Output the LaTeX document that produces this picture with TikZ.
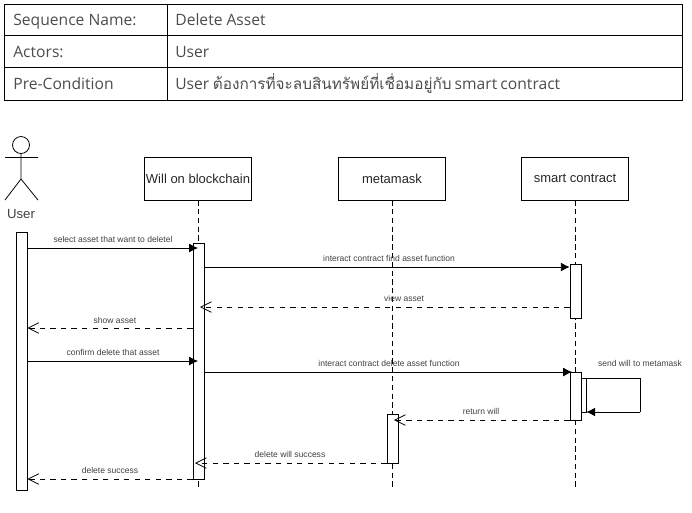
\documentclass[tikz,border=0pt]{standalone}
\usepackage{fontspec}
\setmainfont{Liberation Sans}
\newfontfamily\thaifont[Script=Thai,Scale=0.98]{Loma}
\newfontfamily\tablefont{Open Sans}
\newcommand{\thaitext}[1]{{\thaifont #1}}
\usetikzlibrary{arrows.meta}

\tikzset{
    tablecell/.style={anchor=base west, inner sep=0pt, font=\tablefont\fontsize{8.9}{10}\selectfont, text=black!70},
    lifehead/.style={draw, line width=0.4pt, minimum width=2.14cm, minimum height=0.86cm, inner sep=0pt, font=\fontsize{7.4}{9}\selectfont, text=black!85},
    actbar/.style={draw, fill=white, line width=0.4pt, minimum width=0.22cm, inner sep=0pt},
    lifeline/.style={densely dashed, line width=0.5pt},
    msg/.style={-{Latex[length=5pt, width=5pt]}, line width=0.45pt},
    reply/.style={dashed, -{Straight Barb[length=6pt, width=6pt]}, line width=0.45pt},
    msglabel/.style={inner sep=0pt, font=\fontsize{4.85}{6}\selectfont, text=black!75},
}

\begin{document}
\begin{tikzpicture}[x=0.02cm, y=-0.02cm]
    \useasboundingbox (0, 0) rectangle (692, 512);

    % table
    \draw[line width=0.4pt] (4, 4) rectangle (682, 100);
    \draw[line width=0.4pt] (4, 35) -- (682, 35);
    \draw[line width=0.4pt] (4, 67) -- (682, 67);
    \draw[line width=0.4pt] (167, 4) -- (167, 100);
    \node[tablecell] (nameKey) at (13, 25) {Sequence Name:};
    \node[tablecell] (nameVal) at (175, 25) {Delete Asset};
    \node[tablecell] (actorKey) at (13, 57) {Actors:};
    \node[tablecell] (actorVal) at (175, 57) {User};
    \node[tablecell] (condKey) at (13, 89) {Pre-Condition};
    \node[tablecell] (condVal) at (175, 89) {User\hspace{-0.3pt} \thaitext{ต้องการที่จะลบสินทรัพย์ที่เชื่อมอยู่กับ}\hspace{-0.5pt} smart\hspace{-0.5pt} contract};

    % actor
    \draw[line width=0.45pt] (21, 145) circle (8.5);
    \draw[line width=0.45pt] (21, 153.5) -- (21, 179) -- (5, 200);
    \draw[line width=0.45pt] (21, 179) -- (38, 200);
    \draw[line width=0.45pt] (5, 157) -- (38, 157);
    \node[msglabel, font=\fontsize{7.5}{9}\selectfont] (user) at (21, 214) {User};

    % lifelines
    \foreach \name/\x/\txt in {will/198/Will on blockchain, meta/392/metamask, smart/575/smart contract} {
        \node[lifehead] (\name) at (\x, 178.5) {\txt};
        \coordinate (\name End) at (\x, 487);
        \draw[lifeline] (\name) -- (\name End);
    }

    % activation bars
    \node[actbar, minimum height=5.16cm] (actUser) at (21.5, 361) {};
    \node[actbar, minimum height=4.72cm] (actWill) at (198.5, 361) {};
    \node[actbar, minimum height=1.08cm] (actFind) at (575.5, 291) {};
    \node[actbar, minimum height=0.96cm] (actDel) at (575.5, 396) {};
    \node[actbar, minimum height=0.98cm] (actMeta) at (392.5, 438.5) {};
    \node[actbar, minimum width=0.1cm, minimum height=0.68cm] (actSelf) at (583.5, 395) {};

    % free ends of the arrows
    \coordinate (viewEnd) at (200, 307);
    \coordinate (deleteEnd) at (572, 372);
    \coordinate (returnEnd) at (394, 420);
    \coordinate (successEnd) at (195, 463);

    % messages
    \draw[msg] (actUser.east |- 0, 248) -- (will |- 0, 248);
    \node[msglabel] (selectLabel) at (113, 239) {select asset that want to deletel};
    \draw[msg] (actWill.east |- 0, 267) -- (actFind.west |- 0, 267);
    \node[msglabel] (findLabel) at (389, 258) {interact contract find asset function};
    \draw[reply] (actFind.west |- viewEnd) -- (viewEnd);
    \node[msglabel] (viewLabel) at (404, 298) {view asset};
    \draw[reply] (actWill.west |- 0, 328) -- (actUser.east |- 0, 328);
    \node[msglabel] (showLabel) at (115, 320) {show asset};
    \draw[msg] (actUser.east |- 0, 361) -- (will |- 0, 361);
    \node[msglabel] (confirmLabel) at (113, 352) {confirm delete that asset};
    \draw[msg] (actWill.east |- deleteEnd) -- (deleteEnd);
    \node[msglabel] (deleteLabel) at (389, 363) {interact contract delete asset function};

    % self call
    \coordinate (loopTop) at (640, 378);
    \coordinate (loopBot) at (640, 412);
    \draw[line width=0.45pt] (actDel.east |- loopTop) -- (loopTop) -- (loopBot);
    \draw[msg] (loopBot) -- (actSelf.east |- loopBot);
    \node[msglabel] (sendLabel) at (640, 363) {send will to metamask};

    \draw[reply] (actDel.west |- returnEnd) -- (returnEnd);
    \node[msglabel] (returnLabel) at (481, 411) {return will};
    \draw[reply] (actMeta.west |- successEnd) -- (successEnd);
    \node[msglabel] (successLabel) at (290, 454) {delete will success};
    \draw[reply] (actWill.west |- 0, 479) -- (actUser.east |- 0, 479);
    \node[msglabel] (doneLabel) at (110, 470) {delete success};
\end{tikzpicture}
\end{document}
